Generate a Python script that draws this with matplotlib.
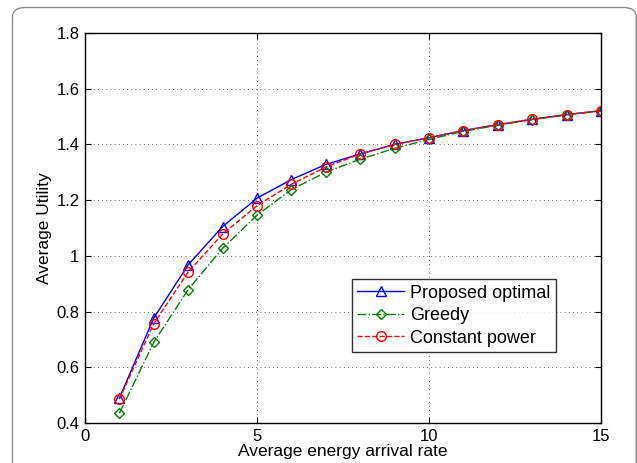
import matplotlib
matplotlib.use("Agg")
import matplotlib.pyplot as plt
from matplotlib.patches import FancyBboxPatch

plt.rcParams['font.family'] = ['Liberation Sans', 'DejaVu Sans']

x = [1, 2, 3, 4, 5, 6, 7, 8, 9, 10, 11, 12, 13, 14, 15]
proposed = [0.49, 0.777, 0.968, 1.105, 1.207, 1.274, 1.328, 1.366, 1.400, 1.424, 1.450, 1.471, 1.490, 1.507, 1.521]
greedy = [0.435, 0.690, 0.879, 1.027, 1.146, 1.238, 1.300, 1.347, 1.386, 1.418, 1.447, 1.469, 1.489, 1.506, 1.521]
constant = [0.486, 0.757, 0.942, 1.078, 1.180, 1.257, 1.319, 1.366, 1.400, 1.424, 1.450, 1.471, 1.490, 1.507, 1.521]

xticks = [0, 5, 10, 15]
yticks = [0.4, 0.6, 0.8, 1.0, 1.2, 1.4, 1.6, 1.8]
yticklabels = ['0.4', '0.6', '0.8', '1', '1.2', '1.4', '1.6', '1.8']

fig = plt.figure(figsize=(6.37, 4.63), dpi=100)
# rounded outer frame
frame = FancyBboxPatch((12.5/637, -0.05), (636.3-12.5)/637, 1.05 - 7.5/463,
                       boxstyle="round,pad=0,rounding_size=0.02",
                       transform=fig.transFigure, fill=False,
                       edgecolor='#8c8c8c', linewidth=1.0, zorder=0)
fig.patches.append(frame)

ax = fig.add_axes([85/637, 40/463, (601-85)/637, (423-33)/463])

ax.plot(x, proposed, color='blue', linestyle='-', marker='^', markersize=7.5,
        markerfacecolor='none', markeredgecolor='blue', linewidth=1.0, label='Proposed optimal')
ax.plot(x, greedy, color=(0, 0.5, 0), linestyle='-.', marker='D', markersize=5,
        markerfacecolor='none', markeredgecolor=(0, 0.5, 0), linewidth=1.0, label='Greedy')
ax.plot(x, constant, color='red', linestyle='--', marker='o', markersize=7,
        markerfacecolor='none', markeredgecolor='red', linewidth=1.0, label='Constant power')

ax.set_xlim(0, 15)
ax.set_ylim(0.4, 1.8)
ax.set_xticks(xticks)
ax.set_xticklabels([str(t) for t in xticks])
ax.set_yticks(yticks)
ax.set_yticklabels(yticklabels)
ax.tick_params(direction='in', length=4, width=0.8, labelsize=12, top=True, right=True, pad=4)
ax.grid(True, linestyle=(0, (1, 4)), color='#333333', linewidth=0.6)
for s in ax.spines.values():
    s.set_linewidth(1.0)

ax.set_xlabel('Average energy arrival rate', fontsize=12.5, labelpad=0)
ax.set_ylabel('Average Utility', fontsize=12.5, labelpad=3)

leg = ax.legend(loc='lower left', bbox_to_anchor=((352-85)/516, (423-352)/390),
                frameon=True, fancybox=False, edgecolor='black', fontsize=13,
                handlelength=2.6, borderpad=0.3, labelspacing=0.3, handletextpad=0.3,
                borderaxespad=0)
leg.get_frame().set_linewidth(1.0)

fig.savefig('out.png', dpi=100)
